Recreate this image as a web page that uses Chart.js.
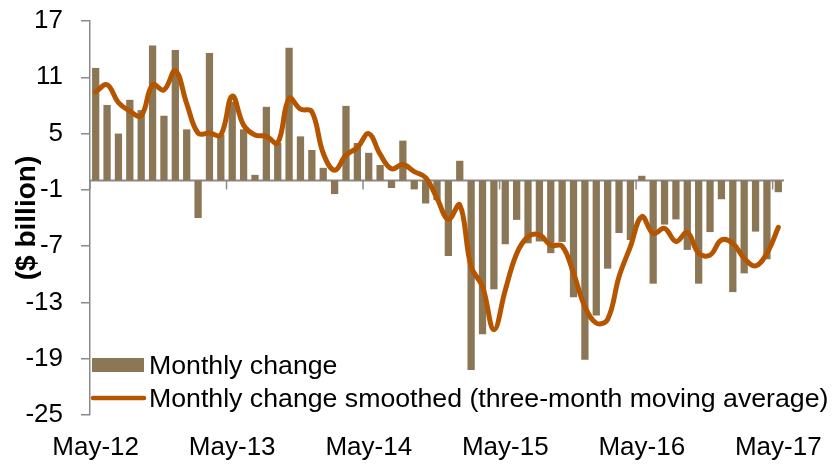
<!DOCTYPE html>
<html><head><meta charset="utf-8">
<script src="https://cdn.jsdelivr.net/npm/chart.js@4"></script>
<style>html,body{margin:0;padding:0;background:#fff;}#wrap{width:835px;height:464px;position:relative;}</style>
</head><body><div id="wrap"><canvas id="c" width="835" height="464"></canvas></div>
<script>
const categories = [
 'May-12','Jun-12','Jul-12','Aug-12','Sep-12','Oct-12','Nov-12','Dec-12',
 'Jan-13','Feb-13','Mar-13','Apr-13','May-13','Jun-13','Jul-13','Aug-13','Sep-13','Oct-13','Nov-13','Dec-13',
 'Jan-14','Feb-14','Mar-14','Apr-14','May-14','Jun-14','Jul-14','Aug-14','Sep-14','Oct-14','Nov-14','Dec-14',
 'Jan-15','Feb-15','Mar-15','Apr-15','May-15','Jun-15','Jul-15','Aug-15','Sep-15','Oct-15','Nov-15','Dec-15',
 'Jan-16','Feb-16','Mar-16','Apr-16','May-16','Jun-16','Jul-16','Aug-16','Sep-16','Oct-16','Nov-16','Dec-16',
 'Jan-17','Feb-17','Mar-17','Apr-17','May-17'
];
const monthlyChange = [
 12.0, 8.05, 5.0, 8.6, 7.5, 14.4, 6.9, 13.9, 5.45, -4.0,
 13.6, 4.9, 8.4, 5.45, 0.6, 7.85, 4.0, 14.15, 4.7, 3.25,
 1.35, -1.45, 7.95, 4.0, 2.95, 1.65, -0.8, 4.25, -0.95, -2.45,
 -2.1, -8.05, 2.1, -20.2, -16.4, -11.6, -6.8, -4.2, -6.7, -6.5,
 -7.75, -6.55, -12.45, -19.1, -14.4, -9.4, -5.6, -6.35, 0.5, -11.0,
 -4.7, -4.15, -7.4, -11.0, -5.5, -2.0, -11.9, -9.9, -5.45, -8.4,
 -1.25
];
const smoothedChange = [
 9.45, 10.2, 8.3, 7.4, 6.9, 10.2, 9.65, 11.7, 8.2, 5.05,
 5.05, 4.85, 9.0, 5.9, 4.85, 4.7, 4.0, 8.75, 7.6, 7.35,
 2.9, 1.1, 2.7, 3.5, 5.0, 2.8, 1.25, 1.7, 0.95, 0.3,
 -1.9, -4.15, -2.6, -9.2, -11.3, -15.9, -11.7, -7.8, -6.0, -5.8,
 -6.9, -7.0, -9.9, -13.45, -15.2, -14.8, -10.25, -7.05, -3.85, -5.65,
 -5.1, -6.5, -5.55, -7.75, -7.95, -6.35, -6.7, -8.3, -9.1, -7.75,
 -5.0
];
const yTickValues = [-25, -19, -13, -7, -1, 5, 11, 17];
const xTickLabels = ['May-12','May-13','May-14','May-15','May-16','May-17'];
const seriesNames = ['Monthly change', 'Monthly change smoothed (three-month moving average)'];
const yAxisTitle = '($ billion)';

const FONT = '"Liberation Sans", Arial, sans-serif';
const BAR_COLOR = '#8B7756';
const LINE_COLOR = '#B65500';
const AXIS_COLOR = '#8A8A8A';

const zeroAxisPlugin = {
  id: 'zeroAxis',
  beforeDatasetsDraw(chart) {
    const {ctx, chartArea, scales} = chart;
    const y0 = scales.y.getPixelForValue(0);
    ctx.save();
    ctx.strokeStyle = AXIS_COLOR;
    ctx.lineWidth = 2;
    ctx.beginPath();
    ctx.moveTo(chartArea.left, y0);
    ctx.lineTo(chartArea.right, y0);
    ctx.stroke();
    ctx.lineWidth = 1.5;
    xTickLabels.forEach(lbl => {
      const i = categories.indexOf(lbl);
      const x = i === 0 ? chartArea.left :
        (scales.x.getPixelForValue(i - 1) + scales.x.getPixelForValue(i)) / 2;
      ctx.beginPath();
      ctx.moveTo(x, y0);
      ctx.lineTo(x, y0 + 9);
      ctx.stroke();
    });
    ctx.restore();
  }
};

const legendPlugin = {
  id: 'innerLegend',
  afterDraw(chart) {
    const {ctx, chartArea} = chart;
    const L = chartArea.left + 2;
    const r1 = chartArea.bottom - 50;
    const r2 = chartArea.bottom - 17;
    ctx.save();
    ctx.fillStyle = BAR_COLOR;
    ctx.fillRect(L, r1 - 7, 52, 14);
    ctx.strokeStyle = LINE_COLOR;
    ctx.lineWidth = 4.5;
    ctx.lineCap = 'round';
    ctx.beginPath();
    ctx.moveTo(L + 1, r2);
    ctx.lineTo(L + 52, r2);
    ctx.stroke();
    ctx.fillStyle = '#000';
    ctx.font = '26.7px ' + FONT;
    ctx.textBaseline = 'middle';
    ctx.textAlign = 'left';
    ctx.fillText(chart.data.datasets[0].label, L + 57, r1 + 2);
    ctx.fillText(chart.data.datasets[1].label, L + 57, r2 + 2);
    ctx.restore();
  }
};

new Chart(document.getElementById('c'), {
  type: 'bar',
  data: {
    labels: categories,
    datasets: [
      {
        type: 'bar', label: seriesNames[0], data: monthlyChange,
        backgroundColor: BAR_COLOR, borderWidth: 0,
        barPercentage: 0.64, categoryPercentage: 1.0, order: 2
      },
      {
        type: 'line', label: seriesNames[1], data: smoothedChange,
        borderColor: LINE_COLOR, borderWidth: 5, pointRadius: 0,
        tension: 0.4, fill: false, order: 1, borderCapStyle: 'round'
      }
    ]
  },
  options: {
    responsive: false,
    animation: false,
    devicePixelRatio: 1,
    layout: { padding: { top: 21, right: 51, bottom: 0, left: 0 } },
    plugins: { legend: { display: false }, tooltip: { enabled: false } },
    scales: {
      x: {
        offset: true,
        grid: { display: false, drawTicks: false },
        border: { display: false },
        ticks: {
          autoSkip: false, maxRotation: 0, minRotation: 0,
          color: '#000', font: { family: FONT, size: 26 }, padding: 17,
          callback(v) { const l = this.getLabelForValue(v); return xTickLabels.includes(l) ? l : ''; }
        },
        afterFit(s) { s.height = 49; s.paddingLeft = 0; s.paddingRight = 0; }
      },
      y: {
        min: -25, max: 17,
        afterBuildTicks(s) { s.ticks = yTickValues.map(v => ({ value: v })); },
        grid: { display: true, drawOnChartArea: false, drawTicks: true, tickLength: 9, color: AXIS_COLOR, lineWidth: 1.5 },
        border: { display: true, color: AXIS_COLOR, width: 1.5 },
        ticks: { color: '#000', font: { family: FONT, size: 26 }, padding: 18 },
        title: { display: true, text: yAxisTitle, color: '#000', font: { family: FONT, size: 28, weight: 'bold' }, padding: { top: 10, bottom: 0 } },
        afterFit(s) { s.width = 90; s.paddingTop = 0; s.paddingBottom = 0; }
      }
    }
  },
  plugins: [zeroAxisPlugin, legendPlugin]
});
</script></body></html>
